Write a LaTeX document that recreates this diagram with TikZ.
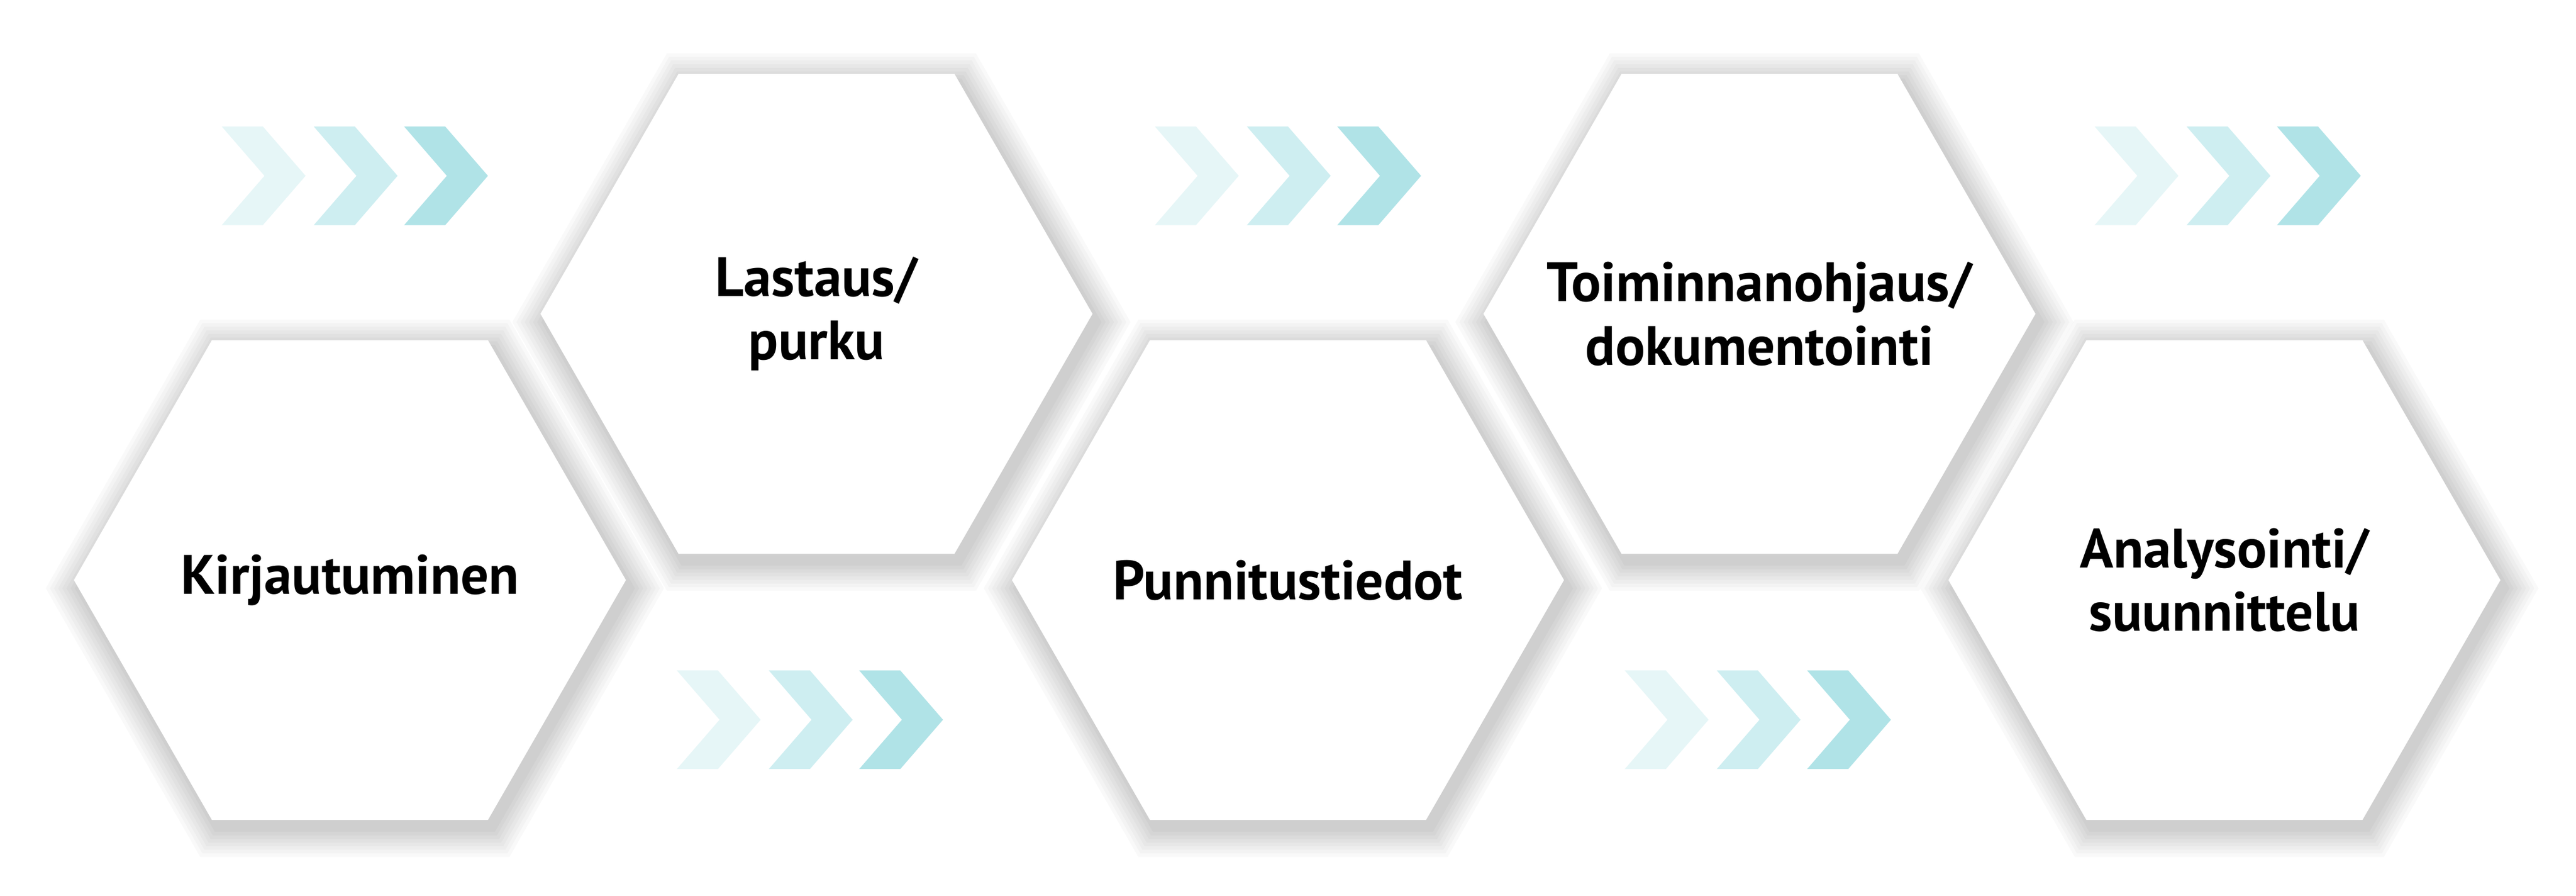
\documentclass[tikz,border=0pt]{standalone}
\usepackage{fontspec}
\setmainfont{PT Sans}
\definecolor{cA}{RGB}{230,246,247}
\definecolor{cB}{RGB}{206,238,241}
\definecolor{cC}{RGB}{176,227,231}
\begin{document}
\begin{tikzpicture}[x=0.01cm,y=-0.01cm,
  lbl/.style={font=\bfseries\fontsize{9.6}{11}\selectfont,align=center,text=black}]
\useasboundingbox (0,0) rectangle (1568,545);
\fill[white] (0,0) rectangle (1568,545);
\def\hexpath#1#2#3{(#1-168*#3,#2) -- (#1-84*#3,#2-146*#3) -- (#1+84*#3,#2-146*#3) -- (#1+168*#3,#2) -- (#1+84*#3,#2+146*#3) -- (#1-84*#3,#2+146*#3) -- cycle}
\newcommand\hexa[3]{%
  \foreach \s in {1.12,1.105,1.09,1.075,1.06,1.045,1.03,1.015}{\fill[black,opacity=0.022] \hexpath{#1+3}{#2+5}{\s};}
  \fill[white] \hexpath{#1}{#2}{1};
  \node[lbl] (#3) at (#1,#2) {};}
\newcommand\chev[3]{\fill[#3] (#1,#2-30) -- (#1+25,#2-30) -- (#1+51,#2) -- (#1+25,#2+30) -- (#1,#2+30) -- (#1+26,#2) -- cycle;}
\newcommand\chevs[2]{\chev{#1}{#2}{cA}\chev{#1+56}{#2}{cB}\chev{#1+111}{#2}{cC}}
\chevs{135}{107}\chevs{703}{107}\chevs{1275}{107}
\chevs{412}{438}\chevs{989}{438}
\hexa{213}{353}{h1}\hexa{497}{191}{h2}\hexa{784}{353}{h3}\hexa{1071}{191}{h4}\hexa{1354}{353}{h5}
\node[lbl] (t1) at (h1) {Kirjautuminen};
\node[lbl] (t2) at (h2) {Lastaus/\\purku};
\node[lbl] (t3) at (h3) {Punnitustiedot};
\node[lbl] (t4) at (h4) {Toiminnanohjaus/\\dokumentointi};
\node[lbl] (t5) at (h5) {Analysointi/\\suunnittelu};
\end{tikzpicture}
\end{document}
